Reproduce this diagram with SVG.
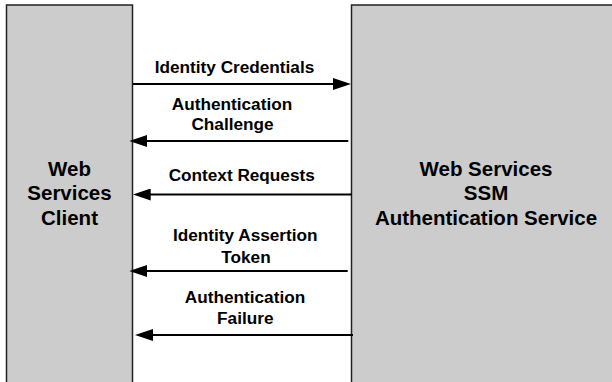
<svg xmlns="http://www.w3.org/2000/svg" width="612" height="382" viewBox="0 0 612 382">
<style>
.box{fill:#cccccc;stroke:#222;stroke-width:1.5}
.node{font-family:"Liberation Sans",Arial,sans-serif;font-weight:bold;font-size:20.5px;fill:#000;text-anchor:middle}
.lbl{font-family:"Liberation Sans",Arial,sans-serif;font-weight:bold;font-size:17.2px;fill:#000;text-anchor:middle}
.conn{stroke:#000;stroke-width:2;fill:none;marker-end:url(#ah)}
</style>
<defs>
<marker id="ah" markerUnits="userSpaceOnUse" markerWidth="18" markerHeight="12" refX="8" refY="6" orient="auto" viewBox="0 0 18 12">
<path d="M0,0 L18,6 L0,12 z" fill="#000"/>
</marker>
</defs>
<rect width="612" height="382" fill="#fff"/>
<g id="client">
<rect class="box" x="6.5" y="5" width="126" height="385"/>
<text class="node" x="69.5" y="175.5">Web</text>
<text class="node" x="69.5" y="200">Services</text>
<text class="node" x="69.5" y="224.5">Client</text>
</g>
<g id="service">
<rect class="box" x="351.5" y="5" width="270" height="385"/>
<text class="node" x="486" y="175.5">Web Services</text>
<text class="node" x="486" y="200">SSM</text>
<text class="node" x="486" y="224.5">Authentication Service</text>
</g>
<g id="connectors">
<path class="conn" d="M133,84 L341,84"/>
<path class="conn" d="M348.3,141 L139.3,141"/>
<path class="conn" d="M352,194.5 L142.7,194.5"/>
<path class="conn" d="M347.7,271 L139.3,271"/>
<path class="conn" d="M353,335 L145,335"/>
</g>
<g id="labels">
<text class="lbl" x="234.5" y="73.3">Identity Credentials</text>
<text class="lbl" x="232" y="110">Authentication</text>
<text class="lbl" x="232.5" y="130">Challenge</text>
<text class="lbl" x="241.7" y="181">Context Requests</text>
<text class="lbl" x="245.3" y="240.7">Identity Assertion</text>
<text class="lbl" x="246" y="262.7">Token</text>
<text class="lbl" x="245" y="303.3">Authentication</text>
<text class="lbl" x="245.3" y="324">Failure</text>
</g>
</svg>
